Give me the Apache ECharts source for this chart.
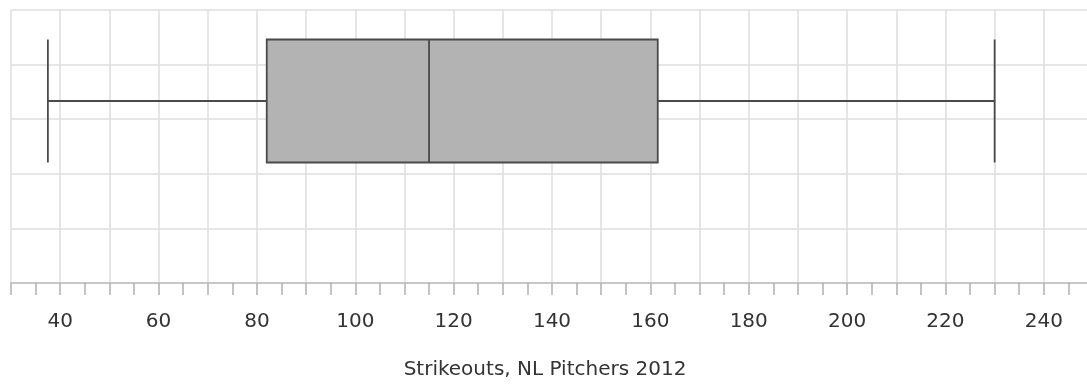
<!DOCTYPE html>
<html>
<head>
<meta charset="utf-8">
<script src="https://cdn.jsdelivr.net/npm/echarts@6/dist/echarts.min.js"></script>
<style>
html,body{margin:0;padding:0;background:#fff;overflow:hidden;width:1087px;height:385px;}
#c{width:1093px;height:385px;}
</style>
</head>
<body>
<div id="c"></div>
<script>
var categories = ['', 'NL Pitchers 2012', '', ''];
var boxCategory = 'NL Pitchers 2012';
var boxStats = [37.5, 82, 115, 161.5, 230]; // min, Q1, median, Q3, max
var xTicks = [40, 60, 80, 100, 120, 140, 160, 180, 200, 220, 240];
var axisTitle = 'Strikeouts, NL Pitchers 2012';

var chart = echarts.init(document.getElementById('c'), null, {renderer: 'canvas'});
var font = 'DejaVu Sans';
chart.setOption({
  animation: false,
  backgroundColor: '#ffffff',
  grid: {left: 11, right: 0, top: 10, bottom: 101, containLabel: false},
  xAxis: {
    type: 'value', min: 30, max: 250, interval: 10,
    name: axisTitle, nameLocation: 'middle', nameGap: 77,
    nameTextStyle: {fontFamily: font, fontSize: 20, color: '#333', padding: [0, 14, 0, 0]},
    axisLine: {show: true, lineStyle: {color: '#bdbdbd', width: 1.5}},
    axisTick: {show: true, length: 12, lineStyle: {color: '#b0b0b0', width: 1.5}},
    minorTick: {show: true, splitNumber: 2, length: 12, lineStyle: {color: '#b0b0b0', width: 1.5}},
    splitLine: {show: true, lineStyle: {color: '#dedede', width: 1.5}},
    axisLabel: {
      fontFamily: font, fontSize: 20, color: '#333', margin: 29,
      showMaxLabel: false,
      formatter: function (v) { return xTicks.indexOf(v) >= 0 ? String(v) : ''; }
    }
  },
  yAxis: [
    {
      type: 'value', min: 0, max: 5, interval: 1,
      axisLine: {show: false}, axisTick: {show: false}, axisLabel: {show: false},
      splitLine: {show: true, lineStyle: {color: '#dedede', width: 1.5}}
    },
    {
      type: 'category', data: categories, inverse: true, boundaryGap: false,
      axisLine: {show: false}, axisTick: {show: false}, axisLabel: {show: false},
      splitLine: {show: false}
    }
  ],
  series: [{
    type: 'boxplot',
    yAxisIndex: 1,
    boxWidth: [123, 123],
    encode: {y: 0, x: [1, 2, 3, 4, 5]},
    data: [[boxCategory].concat(boxStats)],
    itemStyle: {color: '#b3b3b3', borderColor: '#4a4a4a', borderWidth: 1.8},
    emphasis: {disabled: true}
  }]
});
</script>
</body>
</html>
